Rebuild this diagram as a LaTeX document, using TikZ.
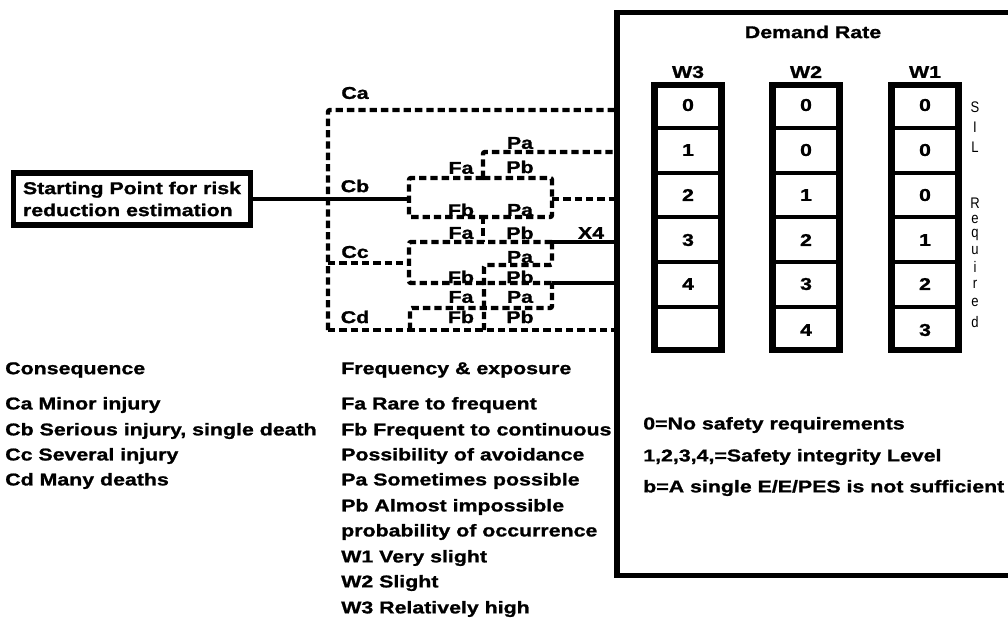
\documentclass[tikz,border=0pt]{standalone}
\usepackage{fontspec}
\usepackage{tikz}
\usetikzlibrary{positioning,calc}
\newfontfamily\heavyfont{Liberation Sans Bold}[FakeStretch=1.25,FakeBold=1.2]
\newfontfamily\thinfont{Liberation Sans}[FakeStretch=0.85]

\begin{document}
\begin{tikzpicture}[x=0.75pt, y=-0.75pt,
  txt/.style={font=\heavyfont\fontsize{12.8}{16.5}\selectfont, inner sep=0pt},
  branch/.style={line width=3.3pt, dash pattern=on 5.5pt off 3pt, rounded corners=1.5pt},
  solidline/.style={line width=3.3pt},
  startbox/.style={txt, draw, line width=4pt, align=left, minimum width=178pt, minimum height=39pt},
  colbox/.style={line width=5pt},
  sep/.style={line width=3pt},
  frame/.style={line width=4pt},
  silch/.style={font=\thinfont\fontsize{11.5}{12}\selectfont, inner sep=0pt},
]
\useasboundingbox (0,0) rectangle (1008,629);

% ---------- starting point and consequence spine ----------
\node[startbox] (start) at (132,199) {Starting Point for risk\\reduction estimation};
\coordinate (spT) at (328,110);
\coordinate (spB) at (328,330);
\coordinate (spCb) at (328,199);
\coordinate (spCc) at (328,263);
\draw[branch] (spB) -- (spT) -- (617,110);
\draw[branch] (spB) -- (617,330);
\draw[solidline] (start.east) -- (spCb) -- (409,199);

% ---------- Cb branch ----------
\coordinate (cbL) at (409,199);
\coordinate (cbFa) at (483,178);
\coordinate (cbFb) at (483,217);
\draw[branch] (cbFa) -- (409,178) -- (409,217) -- (cbFb);
\draw[branch] (cbFa) -- (552,178) -- (552,217) -- (cbFb);
\draw[branch] (552,199) -- (617,199);
\draw[branch] (cbFa) -- (483,152) -- (617,152);
\draw[branch] (cbFb) -- (483,242);

% ---------- Cc branch ----------
\draw[branch] (spCc) -- (409,263);
\draw[branch] (552,242) -- (409,242) -- (409,283) -- (552,283);
\draw[solidline] (552,242) -- (617,242);
\draw[solidline] (552,283) -- (617,283);
\draw[branch] (552,242) -- (552,265) -- (484,265) -- (484,330);

% ---------- Cd branch ----------
\draw[branch] (410,330) -- (410,308) -- (552,308) -- (552,283);

% branch labels
\foreach \lbl/\px/\py [count=\i] in {Ca/355/93, Cb/355/186, Cc/355/252, Cd/355/317,
  Fa/461/168, Pa/520/143, Pb/520/167, Fb/461/210, Pa/520/210,
  Fa/461/233, Pb/520/233, X4/591/233, Pa/520/257, Fb/461/277, Pb/520/277,
  Fa/461/297, Pa/520/297, Fb/461/317, Pb/520/317} {
  \node[txt] (lbl\i) at (\px,\py) {\lbl};
}

% ---------- demand rate table ----------
\draw[frame] (1008,12.5) -- (617,12.5) -- (617,575.5) -- (1008,575.5);
\node[txt] (demand) at (813,32) {Demand Rate};
\foreach \col/\cx in {W3/688, W2/806, W1/925} {
  \node[txt] (head\col) at (\cx,72) {\col};
  \foreach \sy in {128,173,217,262,307}
    \draw[sep] (\cx-33.5,\sy) -- (\cx+33.5,\sy);
  \draw[colbox] (\cx-33.5,85) rectangle (\cx+33.5,350);
}
\foreach \ry/\va/\vb/\vc in {105/0/0/0, 150/1/0/0, 195/2/1/0, 240/3/2/1, 284/4/3/2, 330/{}/4/3} {
  \node[txt] (wa\ry) at (688,\ry) {\va};
  \node[txt] (wb\ry) at (806,\ry) {\vb};
  \node[txt] (wc\ry) at (925,\ry) {\vc};
}
\foreach \ch/\yy in {S/107, I/127, L/147, R/203, e/219, q/235, u/251, i/267, r/284, e/302, d/322}
  \node[silch] (sil\yy) at (975,\yy) {\ch};

\node[txt, anchor=west] (key0) at (643,425) {0=No safety requirements};
\node[txt, anchor=west] (key1) at (643,457) {1,2,3,4,=Safety integrity Level};
\node[txt, anchor=west] (key2) at (643,488) {b=A single E/E/PES is not sufficient};

% ---------- legends ----------
\foreach \t/\yy [count=\i] in {Consequence/370, Ca Minor injury/405,
  {Cb Serious injury, single death}/431, Cc Several injury/456, Cd Many deaths/481}
  \node[txt, anchor=west] (cons\i) at (5,\yy) {\t};
\foreach \t/\yy [count=\i] in {Frequency \& exposure/370, Fa Rare to frequent/405,
  Fb Frequent to continuous/431, Possibility of avoidance/456, Pa Sometimes possible/481,
  Pb Almost impossible/507, probability of occurrence/532, W1 Very slight/558,
  W2 Slight/583, W3 Relatively high/609}
  \node[txt, anchor=west] (freq\i) at (341,\yy) {\t};
\end{tikzpicture}
\end{document}
